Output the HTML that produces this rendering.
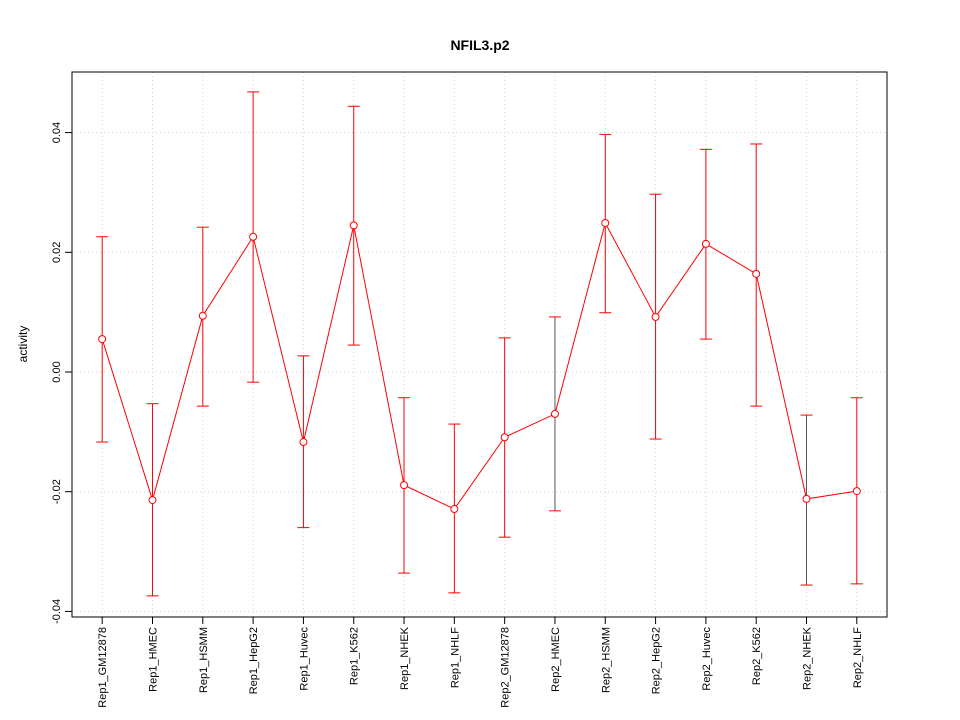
<!DOCTYPE html>
<html><head><meta charset="utf-8"><style>
body{margin:0;background:#fff}
svg{display:block;font-family:"Liberation Sans",Arial,sans-serif}
</style></head><body>
<svg id="chart" width="960" height="720" viewBox="0 0 960 720" xmlns="http://www.w3.org/2000/svg">
<text x="480" y="50" text-anchor="middle" font-size="14" font-weight="bold">NFIL3.p2</text>
<text transform="translate(27,344) rotate(-90)" text-anchor="middle" font-size="12">activity</text>
<g id="grid"></g><g id="axes"></g><g id="marks"></g>
<rect x="72" y="72" width="815" height="545" fill="none" stroke="#000"/>
</svg>
<script>
const categories=["Rep1_GM12878","Rep1_HMEC","Rep1_HSMM","Rep1_HepG2","Rep1_Huvec","Rep1_K562","Rep1_NHEK","Rep1_NHLF","Rep2_GM12878","Rep2_HMEC","Rep2_HSMM","Rep2_HepG2","Rep2_Huvec","Rep2_K562","Rep2_NHEK","Rep2_NHLF"];
const values=[0.0055,-0.0214,0.0094,0.0226,-0.0117,0.0245,-0.0189,-0.0229,-0.0109,-0.007,0.0249,0.0092,0.0214,0.0164,-0.0212,-0.0199];
const upper=[0.0226,-0.0053,0.0242,0.0468,0.0027,0.0444,-0.0043,-0.0087,0.0057,0.0092,0.0397,0.0297,0.0372,0.0381,-0.0072,-0.0043];
const lower=[-0.0117,-0.0374,-0.0057,-0.0017,-0.026,0.0045,-0.0336,-0.0369,-0.0276,-0.0232,0.0099,-0.0112,0.0055,-0.0057,-0.0356,-0.0354];
const yTicks=[-0.04,-0.02,0,0.02,0.04];
const yTickLabels=["-0.04","-0.02","0.00","0.02","0.04"];
const NS="http://www.w3.org/2000/svg";
const L=72,R=887,T=72,B=617;
function xs(i){return L+(i+0.6)*(R-L)/(categories.length-1+1.2);}
function ys(v){return 372-v*5985;}
function mk(tag,attrs,parent){const e=document.createElementNS(NS,tag);for(const k in attrs)e.setAttribute(k,attrs[k]);parent.appendChild(e);return e;}
const grid=document.getElementById('grid'),axes=document.getElementById('axes'),marks=document.getElementById('marks');
categories.forEach((c,i)=>{
 const x=xs(i);
 const g=mk('line',{x1:x,x2:x,y1:T,y2:B,stroke:'#d3d3d3','stroke-dasharray':'1,3'},grid);
 
 
 const t=mk('line',{x1:x,x2:x,y1:B,y2:B+7,stroke:'#000'},axes);
 
 
 const lb=mk('text',{transform:`translate(${x+4},${B+10}) rotate(-90)`,'text-anchor':'end','font-size':'11'},axes);
 lb.textContent=c;
 
 
});
mk('line',{x1:xs(0),x2:xs(categories.length-1),y1:B,y2:B,stroke:'#000'},axes);
yTicks.forEach((v,i)=>{
 const y=ys(v);
 const g=mk('line',{x1:L,x2:R,y1:y,y2:y,stroke:'#d3d3d3','stroke-dasharray':'1,3'},grid);
 
 
 const t=mk('line',{x1:L-7,x2:L,y1:y,y2:y,stroke:'#000'},axes);
 
 
 const lb=mk('text',{transform:`translate(${L-12},${y}) rotate(-90)`,'text-anchor':'middle','font-size':'11'},axes);
 lb.textContent=yTickLabels[i];
 
 
});
mk('line',{x1:L,x2:L,y1:ys(yTicks[0]),y2:ys(yTicks[yTicks.length-1]),stroke:'#000'},axes);
categories.forEach((c,i)=>{
 const x=xs(i);
 const col=(i===9||i===14)?'#555':'#ff0000';
 const s=mk('line',{x1:x,x2:x,y1:ys(upper[i]),y2:ys(lower[i]),stroke:col},marks);
 
 
 [upper[i],lower[i]].forEach(v=>{
  const cp=mk('line',{x1:x-6,x2:x+6,y1:ys(v),y2:ys(v),stroke:'#ff0000'},marks);
  
  
 });
});
const pts=values.map((v,i)=>xs(i)+','+ys(v)).join(' ');
const pl=mk('polyline',{points:pts,fill:'none',stroke:'#ff0000'},marks);


values.forEach((v,i)=>{
 const p=mk('circle',{cx:xs(i),cy:ys(v),r:3.5,fill:'#fff',stroke:'#ff0000'},marks);
 
 
});
</script>
</body></html>
